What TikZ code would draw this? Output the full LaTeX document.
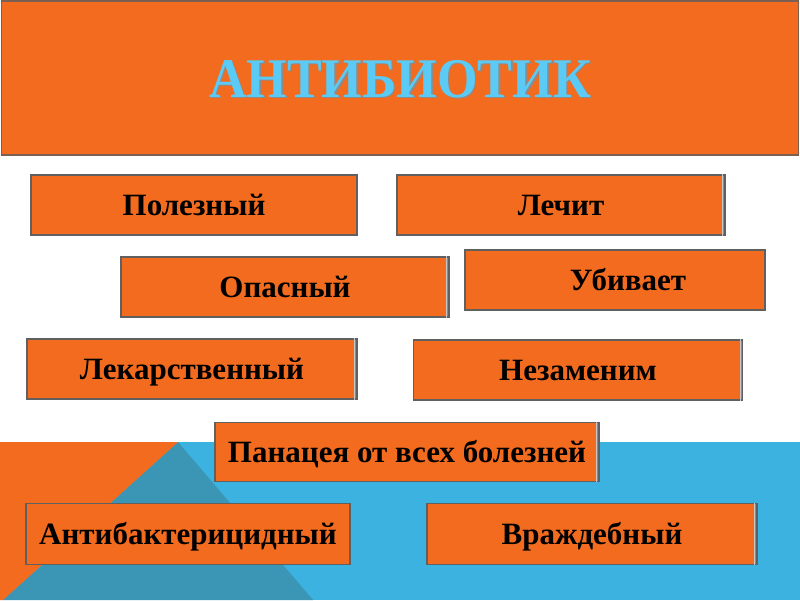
\documentclass[tikz,border=0pt]{standalone}
\usepackage{fontspec}
\setmainfont{Liberation Serif}
\usepackage{graphicx}
\definecolor{orng}{HTML}{F36B1F}
\definecolor{skyb}{HTML}{3BB2E0}
\definecolor{teal2}{HTML}{3A96B4}
\definecolor{titleblue}{HTML}{5BCBF5}
\definecolor{edge}{HTML}{606060}
\definecolor{titleedge}{HTML}{7A5F52}
\tikzset{
  card/.style={draw=edge, line width=1.5pt, fill=orng, inner sep=0pt,
    font=\fontsize{31}{36}\selectfont\bfseries, text=black,
    text height=20.5pt, text depth=0pt},
  dbl/.style={append after command={
    ([xshift=-3pt]\tikzlastnode.north east) edge[draw=gray!45, line width=1pt] ([xshift=-3pt]\tikzlastnode.south east)}}
}
\begin{document}
\begin{tikzpicture}[x=1pt,y=-1pt]
\useasboundingbox (0,0) rectangle (800,600);
% background
\fill[white] (0,0) rectangle (800,600);
\fill[skyb] (0,442) rectangle (800,600);
\fill[teal2] (178,442) -- (313,600) -- (3,600) -- cycle;
\fill[orng] (0,442) -- (178,442) -- (3,600) -- (0,600) -- cycle;
% title
\node[draw=titleedge, line width=1.5pt, fill=orng, minimum width=797pt, minimum height=154pt, inner sep=0pt] (title) at (400,78) {};
\node[text=black!45, font=\fontsize{56}{60}\selectfont\bfseries, text height=37pt, text depth=0pt, inner sep=0pt] (titleshadow) at (401.5,80) {\scalebox{0.93}[1]{АНТИБИОТИК}};
\node[text=titleblue, font=\fontsize{56}{60}\selectfont\bfseries, text height=37pt, text depth=0pt, inner sep=0pt] (titletext) at (400,78.5) {\scalebox{0.93}[1]{АНТИБИОТИК}};
% cards
\node[card, minimum width=326pt, minimum height=60pt] (polez) at (194,205) {Полезный};
\node[card, dbl, minimum width=328pt, minimum height=60pt] (lechit) at (561,205) {Лечит};
\node[card, dbl, minimum width=328pt, minimum height=60pt] (opasn) at (285,287) {Опасный};
\node[card, minimum width=300pt, minimum height=60pt] (ubiv) at (615,280) {\hspace*{26pt}Убивает};
\node[card, dbl, minimum width=330pt, minimum height=60pt] (lekar) at (192,369) {Лекарственный};
\node[card, dbl, minimum width=329pt, minimum height=60pt] (nezam) at (578,370) {Незаменим};
\node[card, dbl, minimum width=384pt, minimum height=59pt] (panac) at (407,452) {Панацея от всех болезней};
\node[card, minimum width=324pt, minimum height=61pt] (antib) at (188,534) {Антибактерицидный};
\node[card, dbl, minimum width=330pt, minimum height=61pt] (vrazh) at (592,534) {Враждебный};
\end{tikzpicture}
\end{document}
